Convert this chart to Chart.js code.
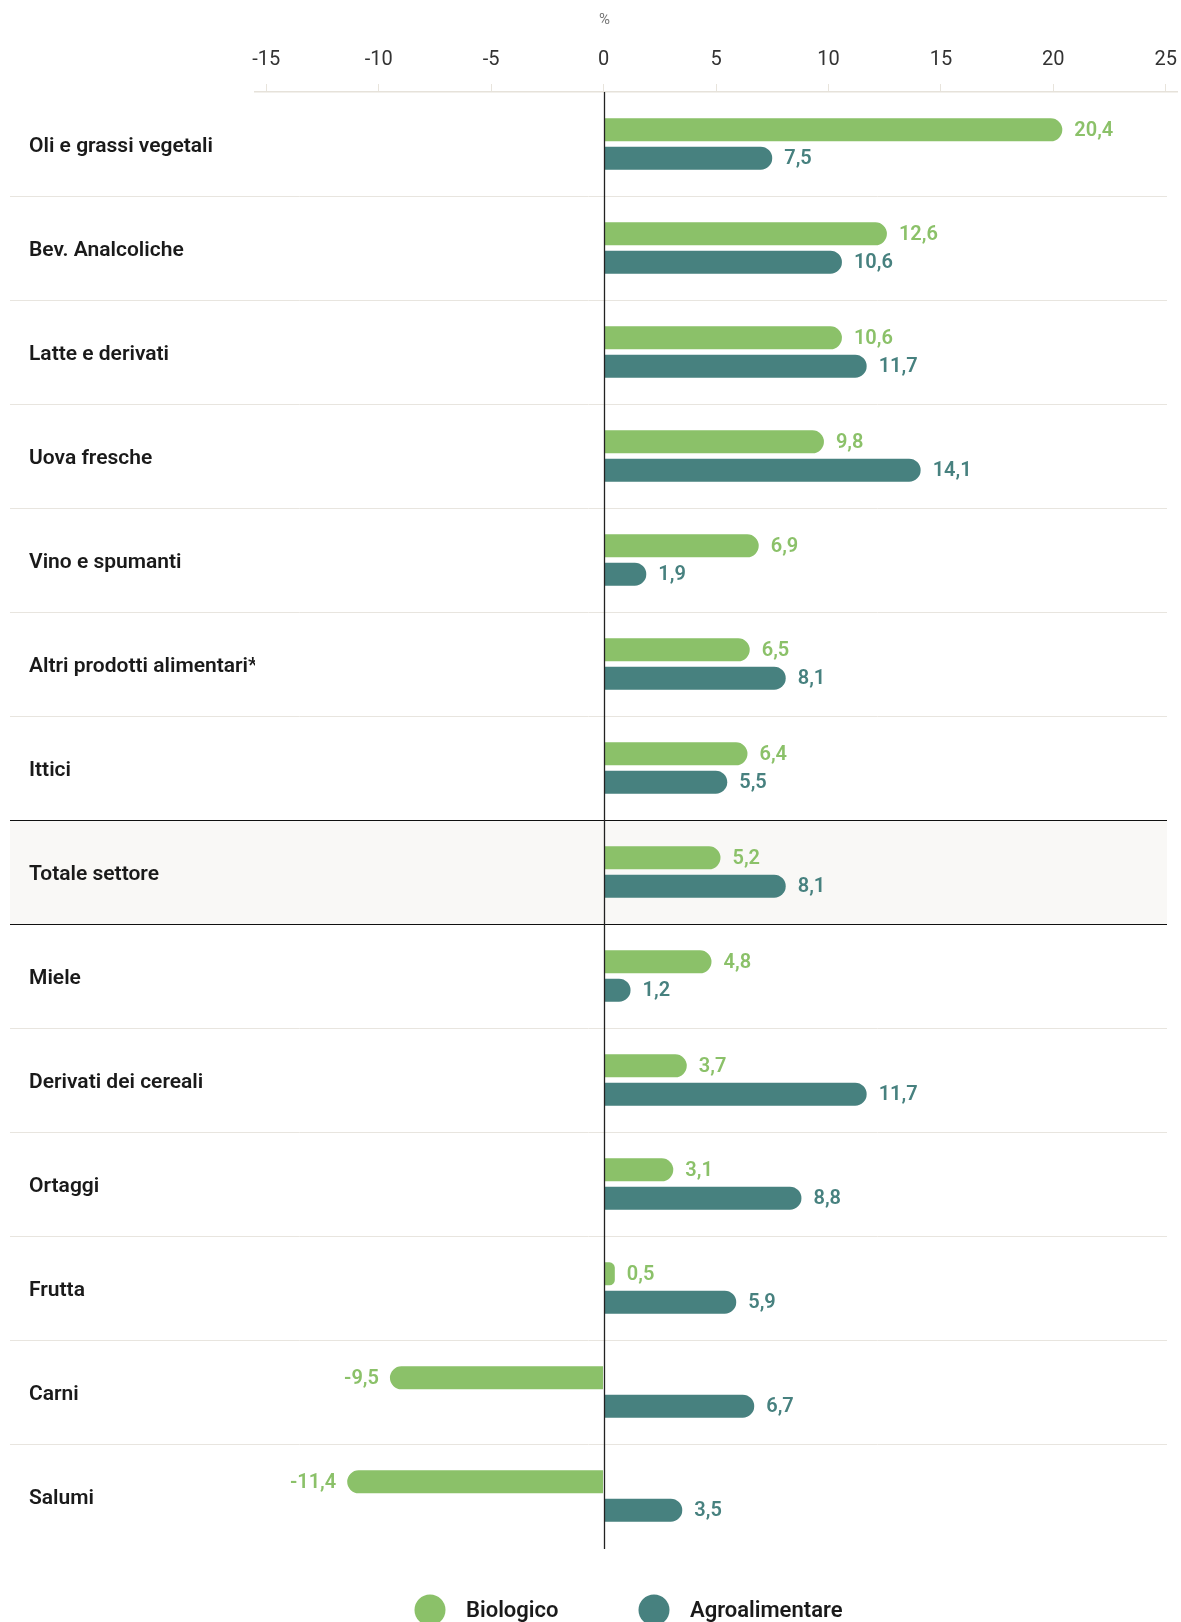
<!DOCTYPE html>
<html>
<head>
<meta charset="utf-8">
<script src="https://cdn.jsdelivr.net/npm/chart.js@4.4.1/dist/chart.umd.min.js"></script>
<style>
  html, body { margin: 0; padding: 0; background: #fff; }
  #wrap { width: 1181px; height: 1622px; position: relative; }
</style>
</head>
<body>
<div id="wrap"><canvas id="chart"></canvas></div>
<script>
const categories = [
    'Oli e grassi vegetali', 'Bev. Analcoliche', 'Latte e derivati', 'Uova fresche',
    'Vino e spumanti', 'Altri prodotti alimentari*', 'Ittici', 'Totale settore',
    'Miele', 'Derivati dei cereali', 'Ortaggi', 'Frutta', 'Carni', 'Salumi'
];
const biologico = [20.4, 12.6, 10.6, 9.8, 6.9, 6.5, 6.4, 5.2, 4.8, 3.7, 3.1, 0.5, -9.5, -11.4];
const agroalimentare = [7.5, 10.6, 11.7, 14.1, 1.9, 8.1, 5.5, 8.1, 1.2, 11.7, 8.8, 5.9, 6.7, 3.5];
const xTicks = [-15, -10, -5, 0, 5, 10, 15, 20, 25];
const seriesLabels = ['Biologico', 'Agroalimentare'];
const seriesColors = ['#8bc169', '#47817f'];
const highlightRow = 'Totale settore';
const unitLabel = '%';

const FONT = 'Roboto, "Noto Sans", sans-serif';
const ROW_LEFT = 10;
const ROW_RIGHT = 1167;

function rowBounds(yScale, i) {
    const n = categories.length;
    const c = yScale.getPixelForTick(i);
    const prev = i > 0 ? yScale.getPixelForTick(i - 1) : null;
    const next = i < n - 1 ? yScale.getPixelForTick(i + 1) : null;
    const half = prev !== null ? (c - prev) / 2 : (next - c) / 2;
    return { top: c - half, bottom: c + half };
}

// row backgrounds, separators, zero line and unit label
const rowsPlugin = {
    id: 'rows',
    beforeDraw(chart) {
        const ctx = chart.ctx;
        const y = chart.scales.y;
        ctx.save();
        categories.forEach((cat, i) => {
            const b = rowBounds(y, i);
            if (cat === highlightRow) {
                ctx.fillStyle = '#f9f8f6';
                ctx.fillRect(ROW_LEFT, b.top, ROW_RIGHT - ROW_LEFT, b.bottom - b.top);
            }
        });
        categories.forEach((cat, i) => {
            if (i === categories.length - 1) return;
            const b = rowBounds(y, i);
            const dark = cat === highlightRow || categories[i + 1] === highlightRow;
            ctx.strokeStyle = dark ? '#111' : '#e8e5df';
            ctx.lineWidth = dark ? 1.2 : 1;
            const yy = Math.round(b.bottom) + 0.5;
            ctx.beginPath();
            ctx.moveTo(ROW_LEFT, yy);
            ctx.lineTo(ROW_RIGHT, yy);
            ctx.stroke();
        });
        ctx.restore();
    },
    afterDatasetsDraw(chart) {
        const ctx = chart.ctx;
        const x0 = Math.round(chart.scales.x.getPixelForValue(0)) + 0.5;
        const area = chart.chartArea;
        ctx.save();
        ctx.strokeStyle = '#222';
        ctx.lineWidth = 1.3;
        ctx.beginPath();
        ctx.moveTo(x0, area.top);
        ctx.lineTo(x0, area.bottom + 1);
        ctx.stroke();
        // unit label above the zero tick
        ctx.fillStyle = '#777';
        ctx.font = '15px ' + FONT;
        ctx.textAlign = 'center';
        ctx.textBaseline = 'middle';
        ctx.fillText(unitLabel, x0, 20);
        ctx.restore();
    }
};

// value labels at bar ends
const valueLabels = {
    id: 'valueLabels',
    afterDatasetsDraw(chart) {
        const ctx = chart.ctx;
        ctx.save();
        ctx.font = '600 20px ' + FONT;
        ctx.textBaseline = 'middle';
        chart.data.datasets.forEach((ds, di) => {
            const meta = chart.getDatasetMeta(di);
            ctx.fillStyle = seriesColors[di];
            meta.data.forEach((bar, i) => {
                const v = ds.data[i];
                const txt = v.toFixed(1).replace('.', ',');
                if (v >= 0) {
                    ctx.textAlign = 'left';
                    ctx.fillText(txt, bar.x + 12, bar.y + 1);
                } else {
                    ctx.textAlign = 'right';
                    ctx.fillText(txt, bar.x - 11, bar.y + 1);
                }
            });
        });
        ctx.restore();
    }
};

// legend drawn at the bottom
const legendPlugin = {
    id: 'customLegend',
    afterDraw(chart) {
        const ctx = chart.ctx;
        const centers = [430, 654];
        const cy = 1610;
        ctx.save();
        ctx.font = '600 22px ' + FONT;
        ctx.textBaseline = 'middle';
        ctx.textAlign = 'left';
        seriesLabels.forEach((lab, i) => {
            ctx.fillStyle = seriesColors[i];
            ctx.beginPath();
            ctx.arc(centers[i], cy, 15.5, 0, Math.PI * 2);
            ctx.fill();
            ctx.fillStyle = '#1a1a1a';
            ctx.fillText(lab, centers[i] + 36, cy + 1);
        });
        ctx.restore();
    }
};

const barDefaults = {
    categoryPercentage: 0.546,
    barPercentage: 0.81,
    borderRadius: 12,
    borderSkipped: 'start'
};

new Chart(document.getElementById('chart'), {
    type: 'bar',
    data: {
        labels: categories,
        datasets: [
            Object.assign({ label: seriesLabels[0], data: biologico, backgroundColor: seriesColors[0] }, barDefaults),
            Object.assign({ label: seriesLabels[1], data: agroalimentare, backgroundColor: seriesColors[1] }, barDefaults)
        ]
    },
    options: {
        indexAxis: 'y',
        responsive: true,
        maintainAspectRatio: false,
        animation: false,
        layout: { padding: { left: 29, top: 9, right: 4, bottom: 74 } },
        scales: {
            x: {
                position: 'top',
                min: -15.5,
                max: 25.5,
                afterBuildTicks: scale => { scale.ticks = xTicks.map(v => ({ value: v })); },
                afterFit: scale => {
                    scale.height = 83;
                    scale.paddingLeft = 0;
                    scale.paddingRight = 0;
                },
                ticks: {
                    color: '#333',
                    font: { family: FONT, size: 20 },
                    padding: 12,
                    maxRotation: 0,
                    autoSkip: false
                },
                grid: {
                    drawOnChartArea: false,
                    tickLength: 8,
                    color: '#e8e4dc'
                },
                border: { color: '#e6e2da', width: 1.5 }
            },
            y: {
                afterFit: scale => { scale.width = 226; },
                ticks: {
                    crossAlign: 'far',
                    padding: 0,
                    autoSkip: false,
                    labelOffset: 3,
                    color: '#1a1a1a',
                    font: { family: FONT, size: 21, weight: '600' }
                },
                grid: { display: false },
                border: { display: false }
            }
        },
        plugins: {
            legend: { display: false },
            tooltip: { enabled: false }
        }
    },
    plugins: [rowsPlugin, valueLabels, legendPlugin]
});
</script>
</body>
</html>
